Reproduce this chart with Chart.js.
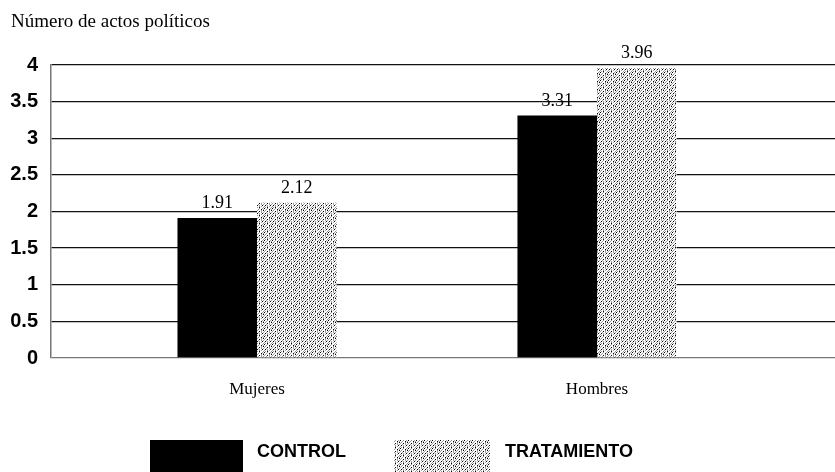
<!DOCTYPE html>
<html>
<head>
<meta charset="utf-8">
<script src="https://cdn.jsdelivr.net/npm/chart.js@4.4.1/dist/chart.umd.min.js"></script>
<style>
  html, body { margin: 0; padding: 0; background: #fff; }
  #wrap { width: 835px; height: 472px; position: relative; }
</style>
</head>
<body>
<div id="wrap"><canvas id="chart"></canvas></div>
<script>
// Data
const categories = ['Mujeres', 'Hombres'];
const seriesNames = ['CONTROL', 'TRATAMIENTO'];
const controlValues = [1.91, 3.31];
const treatmentValues = [2.12, 3.96];
const yTicks = [0, 0.5, 1, 1.5, 2, 2.5, 3, 3.5, 4];
const yTitle = 'Número de actos políticos';

// Stippled grey fill for the treatment bars
function makeStipple() {
  const rows = [
    'K..g..g.',
    '..g..K.g',
    '.g...g.K',
    'g..K.g..',
    '..g..g.g',
    '.K.g..K.',
    'g..g.g..',
    '.g.K...g'
  ];
  const c = document.createElement('canvas');
  c.width = 8; c.height = 8;
  const g = c.getContext('2d');
  g.fillStyle = '#ffffff';
  g.fillRect(0, 0, 8, 8);
  rows.forEach((row, y) => {
    [...row].forEach((ch, x) => {
      if (ch === 'K') { g.fillStyle = '#000000'; g.fillRect(x, y, 1, 1); }
      if (ch === 'g') { g.fillStyle = '#999999'; g.fillRect(x, y, 1, 1); }
    });
  });
  return g.createPattern(c, 'repeat');
}
const stipple = makeStipple();

// Title, value labels and legend
const decorations = {
  id: 'decorations',
  afterDatasetsDraw(chart) {
    const ctx = chart.ctx;
    ctx.save();
    ctx.fillStyle = '#000';

    // title
    ctx.font = '19px "Liberation Serif"';
    ctx.textAlign = 'left';
    ctx.textBaseline = 'alphabetic';
    ctx.fillText(yTitle, 11, 27);

    // values above bars
    ctx.font = '18px "Liberation Serif"';
    ctx.textAlign = 'center';
    chart.data.datasets.forEach((ds, i) => {
      chart.getDatasetMeta(i).data.forEach((bar, j) => {
        ctx.fillText(ds.data[j].y.toFixed(2), bar.x, bar.y - 10);
      });
    });

    // legend
    const items = [
      { x: 150, w: 93, tx: 257 },
      { x: 394, w: 96, tx: 505 }
    ];
    ctx.font = 'bold 18px "Liberation Sans"';
    ctx.textAlign = 'left';
    items.forEach((it, i) => {
      ctx.fillStyle = chart.data.datasets[i].backgroundColor;
      ctx.fillRect(it.x, 440, it.w, 34);
      ctx.fillStyle = '#000';
      ctx.fillText(chart.data.datasets[i].label, it.tx, 457);
    });
    ctx.restore();
  }
};

const ctx = document.getElementById('chart').getContext('2d');
new Chart(ctx, {
  type: 'bar',
  data: {
    datasets: [
      {
        label: seriesNames[0],
        data: controlValues.map((v, i) => ({ x: i + 1, y: v })),
        backgroundColor: '#000000',
        categoryPercentage: 0.468,
        barPercentage: 1
      },
      {
        label: seriesNames[1],
        data: treatmentValues.map((v, i) => ({ x: i + 1, y: v })),
        backgroundColor: stipple,
        categoryPercentage: 0.468,
        barPercentage: 1
      }
    ]
  },
  options: {
    responsive: true,
    maintainAspectRatio: false,
    animation: false,
    layout: { padding: { top: 65, left: 0, right: 0, bottom: 0 } },
    plugins: {
      legend: { display: false },
      title: { display: false },
      tooltip: { enabled: false }
    },
    scales: {
      x: {
        type: 'linear',
        min: 0.394,
        max: 2.7,
        offset: false,
        grid: { display: false, offset: false },
        border: { display: false },
        afterBuildTicks: (scale) => {
          scale.ticks = categories.map((c, i) => ({ value: i + 1 }));
        },
        afterFit: (scale) => { scale.height = 114; },
        ticks: {
          autoSkip: false,
          maxRotation: 0,
          padding: 13,
          color: '#000',
          font: { family: 'Liberation Serif', size: 17 },
          callback: (v) => categories[v - 1]
        }
      },
      y: {
        min: 0,
        max: 4,
        afterBuildTicks: (scale) => {
          scale.ticks = yTicks.map(v => ({ value: v }));
        },
        afterFit: (scale) => { scale.width = 51; },
        grid: {
          drawTicks: false,
          lineWidth: 1.3,
          color: (c) => c.tick && c.tick.value === 0 ? '#777' : '#111'
        },
        border: { display: true, color: '#777', width: 1.5 },
        ticks: {
          padding: 13,
          color: '#000',
          font: { family: 'Liberation Sans', size: 20, weight: 'bold' },
          callback: (v) => String(v)
        }
      }
    }
  },
  plugins: [decorations]
});
</script>
</body>
</html>
